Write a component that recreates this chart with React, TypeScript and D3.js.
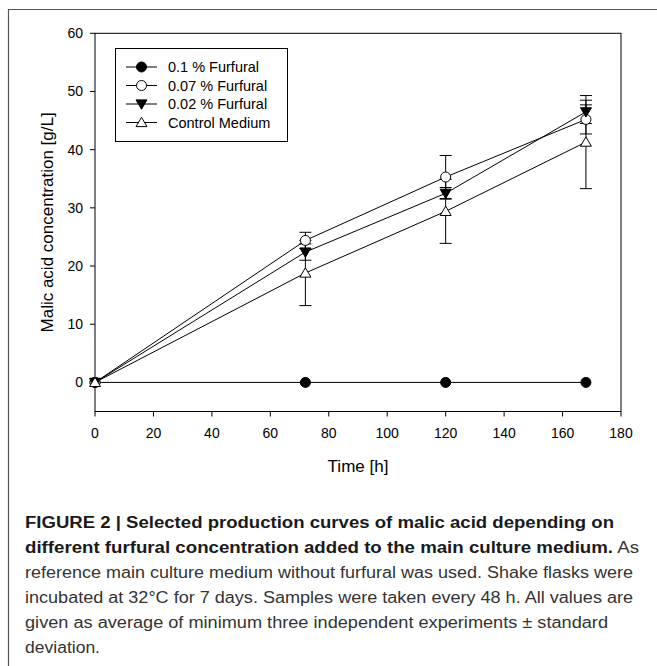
import React from "react";
import * as d3 from "d3";

const times = [0, 72, 120, 168];
const seriesNames = ["0.1 % Furfural", "0.07 % Furfural", "0.02 % Furfural", "Control Medium"];
const furfural01 = [0, 0, 0, 0];
const furfural01Sd = [0, 0, 0, 0];
const furfural007 = [0, 24.4, 35.3, 45.2];
const furfural007Sd = [0, 1.4, 3.7, 2.5];
const furfural002 = [0, 22.4, 32.5, 46.5];
const furfural002Sd = [0, 1.4, 1.0, 2.0];
const control = [0, 18.8, 29.4, 41.3];
const controlSd = [0, 5.6, 5.5, 8.0];
const xTicks = [0, 20, 40, 60, 80, 100, 120, 140, 160, 180];
const yTicks = [0, 10, 20, 30, 40, 50, 60];
const captionLines = [
  { bold: "FIGURE 2 | Selected production curves of malic acid depending on", reg: "" },
  { bold: "different furfural concentration added to the main culture medium.", reg: " As" },
  { bold: "", reg: "reference main culture medium without furfural was used. Shake flasks were" },
  { bold: "", reg: "incubated at 32°C for 7 days. Samples were taken every 48 h. All values are" },
  { bold: "", reg: "given as average of minimum three independent experiments ± standard" },
  { bold: "", reg: "deviation." },
];
const captionWidths = [589, 614, 608, 608, 583, 75];

const W = 657;
const H = 666;
const left = 95, right = 621, top = 33.3, bottom = 411.5;
const font = "'Liberation Sans', Arial, sans-serif";

type Kind = "fcircle" | "ocircle" | "fdown" | "oup";
const kinds: Kind[] = ["fcircle", "ocircle", "fdown", "oup"];
const values = [furfural01, furfural007, furfural002, control];
const sds = [furfural01Sd, furfural007Sd, furfural002Sd, controlSd];

function Marker({ kind, cx, cy }: { kind: Kind; cx: number; cy: number }) {
  const r = 5;
  if (kind === "fcircle") return <circle cx={cx} cy={cy} r={r} fill="#000" stroke="#000" strokeWidth={1} />;
  if (kind === "ocircle") return <circle cx={cx} cy={cy} r={r} fill="#fff" stroke="#000" strokeWidth={1} />;
  const s = 5.5;
  if (kind === "fdown") {
    const p = `M${cx - s},${cy - s * 0.75} L${cx + s},${cy - s * 0.75} L${cx},${cy + s * 0.95} Z`;
    return <path d={p} fill="#000" stroke="#000" strokeWidth={1} />;
  }
  const p = `M${cx - s},${cy + s * 0.75} L${cx + s},${cy + s * 0.75} L${cx},${cy - s * 0.95} Z`;
  return <path d={p} fill="#fff" stroke="#000" strokeWidth={1} />;
}

export default function App() {
  const x = d3.scaleLinear().domain([0, 180]).range([left, right]);
  const y = d3.scaleLinear().domain([-5, 60]).range([bottom, top]);
  const line = d3
    .line<number>()
    .x((_, i) => x(times[i]))
    .y((d) => y(d));

  const legendY = [67, 85.5, 104, 122.5];

  return (
    <svg width={W} height={H} style={{ display: "block", position: "absolute", left: 0, top: 0 }}>
      <rect x={0} y={0} width={W} height={H} fill="#fff" />
      {/* outer frame */}
      <path d={`M8.5,${H} L8.5,9.5 L${W},9.5`} fill="none" stroke="#555" strokeWidth={1.2} />
      {/* plot box */}
      <rect x={left} y={top} width={right - left} height={bottom - top} fill="none" stroke="#000" strokeWidth={1} />
      {/* x ticks */}
      {xTicks.map((t) => (
        <g key={"x" + t}>
          <line x1={x(t)} x2={x(t)} y1={bottom} y2={bottom + 5} stroke="#000" />
          <text x={x(t)} y={bottom + 26} textAnchor="middle" fontFamily={font} fontSize={14} fill="#000">
            {t}
          </text>
        </g>
      ))}
      {/* y ticks */}
      {yTicks.map((t) => (
        <g key={"y" + t}>
          <line x1={left - 5} x2={left} y1={y(t)} y2={y(t)} stroke="#000" />
          <text x={left - 12} y={y(t) + 5} textAnchor="end" fontFamily={font} fontSize={14} fill="#000">
            {t}
          </text>
        </g>
      ))}
      <text x={(left + right) / 2} y={472} textAnchor="middle" fontFamily={font} fontSize={17} fill="#000">
        Time [h]
      </text>
      <text
        transform={`translate(53,${(top + bottom) / 2}) rotate(-90)`}
        textAnchor="middle"
        fontFamily={font}
        fontSize={17}
        fill="#000"
      >
        Malic acid concentration [g/L]
      </text>

      {/* lines */}
      {values.map((v, si) => (
        <path key={"l" + si} d={line(v) || ""} fill="none" stroke="#000" strokeWidth={1} />
      ))}
      {/* error bars */}
      {values.map((v, si) =>
        v.map((val, i) => {
          const sd = sds[si][i];
          if (!sd) return null;
          const cx = x(times[i]);
          return (
            <g key={"e" + si + "-" + i} stroke="#000" strokeWidth={1}>
              <line x1={cx} x2={cx} y1={y(val - sd)} y2={y(val + sd)} />
              <line x1={cx - 6} x2={cx + 6} y1={y(val - sd)} y2={y(val - sd)} />
              <line x1={cx - 6} x2={cx + 6} y1={y(val + sd)} y2={y(val + sd)} />
            </g>
          );
        })
      )}
      {/* markers */}
      {values.map((v, si) =>
        v.map((val, i) => <Marker key={"m" + si + "-" + i} kind={kinds[si]} cx={x(times[i])} cy={y(val)} />)
      )}

      {/* legend */}
      <rect x={115.5} y={48.5} width={172} height={93} fill="#fff" stroke="#000" strokeWidth={1} />
      {seriesNames.map((n, i) => (
        <g key={"lg" + i}>
          <line x1={126} x2={157} y1={legendY[i]} y2={legendY[i]} stroke="#000" />
          <Marker kind={kinds[i]} cx={141.5} cy={legendY[i]} />
          <text x={168} y={legendY[i] + 5} fontFamily={font} fontSize={14.5} fill="#000">
            {n}
          </text>
        </g>
      ))}

      {/* caption */}
      {captionLines.map((c, i) => (
        <text
          key={"c" + i}
          x={25}
          y={528 + i * 25}
          fontFamily={font}
          fontSize={16}
          textLength={captionWidths[i]}
          lengthAdjust="spacingAndGlyphs"
          fill="#2a2a2a"
        >
          {c.bold && (
            <tspan fontWeight="bold" fill="#1a1a1a">
              {c.bold}
            </tspan>
          )}
          {c.reg && <tspan fill="#333">{c.reg}</tspan>}
        </text>
      ))}
    </svg>
  );
}
